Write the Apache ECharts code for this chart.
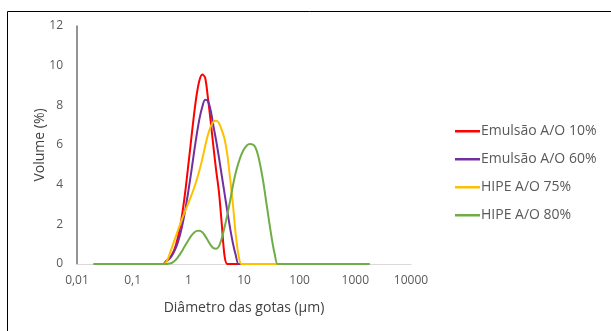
<!DOCTYPE html>
<html>
<head>
<meta charset="utf-8">
<script src="https://cdn.jsdelivr.net/npm/echarts@6/dist/echarts.min.js"></script>
<style>
html,body{margin:0;padding:0;background:#fff;}
#c{width:611px;height:331px;}
</style>
</head>
<body>
<div id="c"></div>
<script>
// Droplet diameter (µm) — size classes
const sizes = [0.02, 0.356, 0.399, 0.448, 0.502, 0.564, 0.632, 0.710, 0.796, 0.893,
  1.002, 1.125, 1.262, 1.416, 1.589, 1.783, 2.000, 2.244, 2.518, 2.825,
  3.170, 3.557, 3.991, 4.477, 5.024, 5.637, 6.325, 7.096, 7.962, 8.934,
  10.024, 11.247, 12.619, 14.159, 15.887, 17.825, 20.000, 22.440, 25.179, 28.251,
  31.698, 35.566, 39.905, 44.774, 1782.5];

const seriesNames = ['Emulsão A/O 10%', 'Emulsão A/O 60%', 'HIPE A/O 75%', 'HIPE A/O 80%'];

const emulsao10 = [0, 0, 0.12, 0.25, 0.44, 0.75, 1.21, 1.86, 2.73, 3.79,
  5.02, 6.27, 7.51, 8.56, 9.28, 9.55, 9.4, 8.4, 7.2, 5.9,
  4.7, 3.6, 2.0, 0.4, 0, 0, 0, 0, 0, 0,
  0, 0, 0, 0, 0, 0, 0, 0, 0, 0,
  0, 0, 0, 0, 0];

const emulsao60 = [0, 0, 0.15, 0.26, 0.41, 0.66, 1.0, 1.47, 2.08, 2.82,
  3.69, 4.61, 5.6, 6.53, 7.34, 7.93, 8.28, 8.22, 7.75, 6.95,
  6.2, 5.35, 4.45, 3.55, 2.65, 1.8, 1.05, 0.45, 0, 0,
  0, 0, 0, 0, 0, 0, 0, 0, 0, 0,
  0, 0, 0, 0, 0];

const hipe75 = [0, 0, 0.08, 0.4, 0.8, 1.2, 1.6, 2.0, 2.38, 2.73,
  3.07, 3.43, 3.82, 4.25, 4.74, 5.3, 5.92, 6.5, 6.93, 7.17,
  7.22, 7.1, 6.75, 6.3, 5.5, 4.3, 3.0, 1.5, 0.45, 0,
  0, 0, 0, 0, 0, 0, 0, 0, 0, 0,
  0, 0, 0, 0, 0];

const hipe80 = [0, 0, 0, 0.02, 0.05, 0.15, 0.3, 0.5, 0.72, 0.97,
  1.2, 1.42, 1.58, 1.67, 1.68, 1.6, 1.42, 1.18, 0.95, 0.8,
  0.77, 0.9, 1.3, 1.85, 2.5, 3.2, 3.95, 4.6, 5.1, 5.5,
  5.8, 5.98, 6.05, 6.03, 5.9, 5.5, 4.85, 4.05, 3.1, 2.15,
  1.25, 0.5, 0, 0, 0];

const xTickLabels = {0.01: '0,01', 0.1: '0,1', 1: '1', 10: '10', 100: '100', 1000: '1000', 10000: '10000'};
const yTicks = [0, 2, 4, 6, 8, 10, 12];

const colors = ['#FF0000', '#7030A0', '#FFC000', '#70AD47'];
const allValues = [emulsao10, emulsao60, hipe75, hipe80];

const FONT = '"Open Sans", "Liberation Sans", sans-serif';

const chart = echarts.init(document.getElementById('c'), null, {renderer: 'canvas'});
chart.setOption({
  animation: false,
  backgroundColor: '#ffffff',
  graphic: [{
    type: 'rect',
    shape: {x: 7.5, y: 11.5, width: 800, height: 500},
    style: {fill: 'none', stroke: '#000000', lineWidth: 1},
    silent: true,
    z: 100
  }],
  grid: {left: 77, right: 200, top: 26, bottom: 67, containLabel: false},
  legend: {
    orient: 'vertical',
    left: 450,
    top: 119,
    itemWidth: 25,
    itemHeight: 2.5,
    itemGap: 13.5,
    icon: 'rect',
    data: seriesNames,
    textStyle: {color: '#595959', fontSize: 14, fontFamily: FONT, lineHeight: 14.5, padding: [0, 0, 0, -4]}
  },
  xAxis: {
    type: 'log',
    logBase: 10,
    min: 0.01,
    max: 10000,
    name: 'Diâmetro das gotas (µm)',
    nameLocation: 'middle',
    nameGap: 37,
    nameMoveOverlap: false,
    nameTextStyle: {color: '#404040', fontSize: 14, fontFamily: FONT},
    axisLine: {show: true, lineStyle: {color: '#D9D9D9', width: 1}},
    axisTick: {show: false},
    splitLine: {show: false},
    axisLabel: {
      color: '#595959', fontSize: 12, fontFamily: FONT, margin: 11,
      formatter: function (v) {
        const k = Object.keys(xTickLabels).find(function (t) { return Math.abs(Number(t) - v) / v < 1e-6; });
        return k !== undefined ? xTickLabels[k] : '';
      }
    }
  },
  yAxis: {
    type: 'value',
    min: yTicks[0],
    max: yTicks[yTicks.length - 1],
    interval: 2,
    name: 'Volume (%)',
    nameLocation: 'middle',
    nameGap: 30,
    nameMoveOverlap: false,
    nameTextStyle: {color: '#404040', fontSize: 14, fontFamily: FONT},
    axisLine: {show: true, lineStyle: {color: '#707070', width: 1.5}},
    axisTick: {show: false},
    splitLine: {show: false},
    axisLabel: {color: '#595959', fontSize: 12, fontFamily: FONT, margin: 14}
  },
  series: seriesNames.map(function (name, i) {
    return {
      name: name,
      type: 'line',
      smooth: 0.3,
      symbol: 'none',
      lineStyle: {color: colors[i], width: 2},
      itemStyle: {color: colors[i]},
      data: sizes.map(function (s, j) { return [s, allValues[i][j]]; }),
      z: 2 + i
    };
  })
});
</script>
</body>
</html>
